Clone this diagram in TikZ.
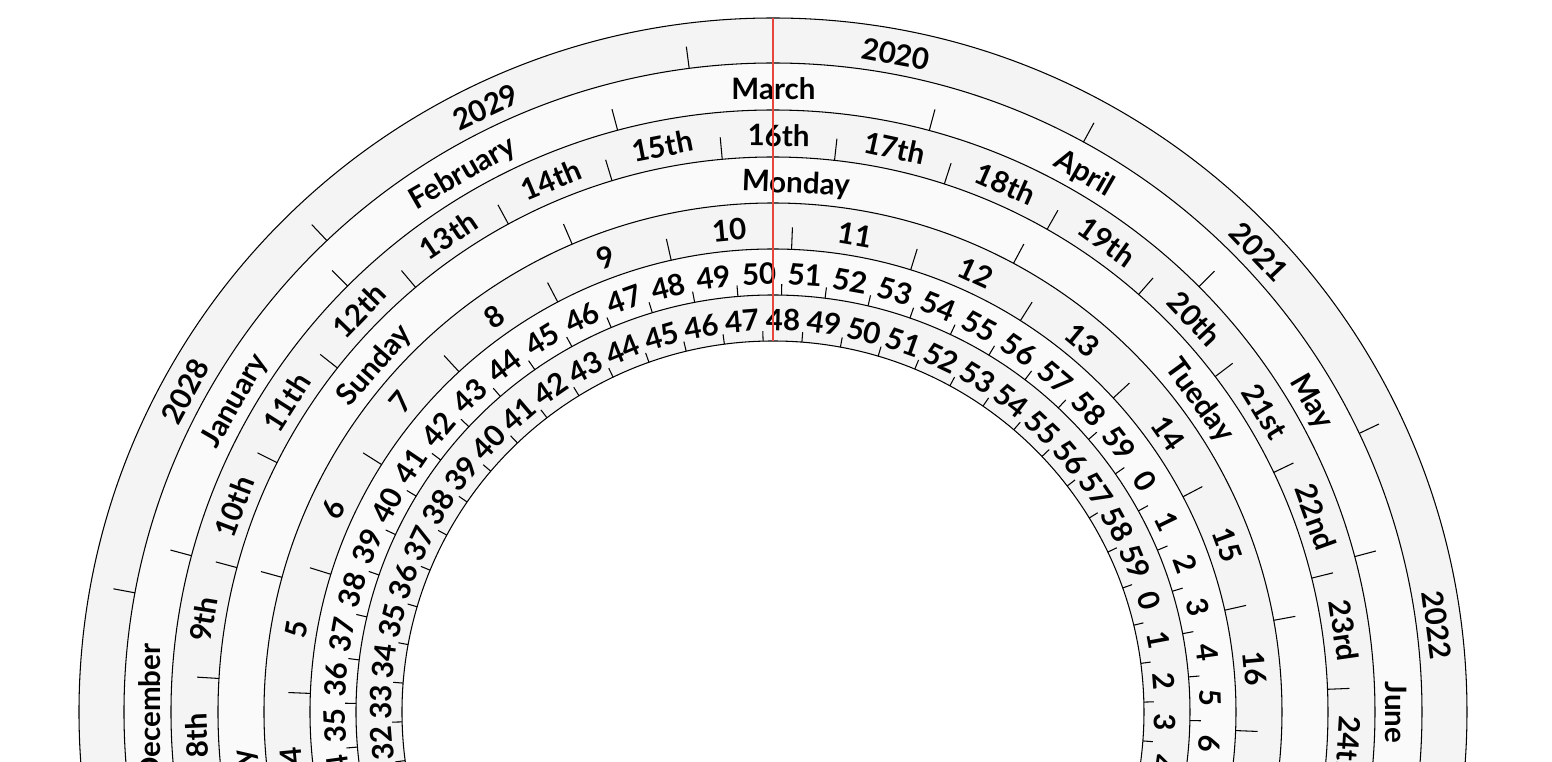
\documentclass[tikz,border=0pt]{standalone}
\usepackage{fontspec}
\setmainfont{Lato}
\usepackage{tikz}
\definecolor{ringdark}{HTML}{F4F4F4}
\definecolor{ringlight}{HTML}{FAFAFA}
\definecolor{nowcolor}{HTML}{E8453C}
\newcommand{\ordsuffix}[1]{%
  \ifnum#1=1 st\else\ifnum#1=21 st\else\ifnum#1=31 st\else
  \ifnum#1=2 nd\else\ifnum#1=22 nd\else
  \ifnum#1=3 rd\else\ifnum#1=23 rd\else th\fi\fi\fi\fi\fi\fi\fi}
% label only if its centre is near the visible part
\newcommand{\seen}[2]{\pgfmathtruncatemacro\vis{#2*sin(#1)>-1.2}}

\begin{document}
\begin{tikzpicture}[
    band/.style={draw=black, line width=0.3pt},
    tickline/.style={draw=black, line width=0.3pt},
    lbl/.style={font=\bfseries\fontsize{8.4}{10}\selectfont, inner sep=0pt, text height=0.72em, text depth=0pt},
    nowline/.style={draw=nowcolor, line width=0.6pt},
]
    \useasboundingbox (-7.73,-0.50) rectangle (7.79,7.12);
    \clip (-7.73,-0.50) rectangle (7.79,7.12);
    % Bands, outer to inner
    \foreach \r/\c in {6.94/ringdark, 6.49/ringlight, 6.02/ringdark, 5.55/ringlight, 5.09/ringdark, 4.63/ringlight, 4.17/ringdark} {
        \draw[band, fill=\c] (0,0) circle (\r);
    }
    \draw[band, fill=white] (0,0) circle (3.71);
    % Years
    \foreach \n in {0,...,9} {
        \pgfmathsetmacro\p{79.42-\n*36}
        \pgfmathtruncatemacro\yr{2020+\n}
        \seen{\p}{6.715}
        \ifnum\vis=1
            \node[lbl, rotate=\p-90] (year-\n) at (\p:6.715) {\yr};
        \fi
        \draw[tickline] (\p+18:6.49) -- (\p+18:6.71);
    }
    % Months
    \foreach \m [count=\n from 0] in {January,February,March,April,May,June,July,August,September,October,November,December} {
        \pgfmathsetmacro\p{89.955-(\n-2)*30}
        \seen{\p}{6.255}
        \ifnum\vis=1
            \node[lbl, rotate=\p-90] (month-\n) at (\p:6.255) {\m};
        \fi
        \draw[tickline] (\p+15:6.02) -- (\p+15:6.24);
    }
    % Days
    \foreach \n in {1,...,31} {
        \pgfmathsetmacro\p{89.44-(\n-16)*360/31}
        \pgfmathsetmacro\q{\p+180/31}
        \seen{\p}{5.785}
        \ifnum\vis=1
            \node[lbl, rotate=\p-90] (day-\n) at (\p:5.785) {\n\ordsuffix{\n}};
        \fi
        \draw[tickline] (\q:5.55) -- (\q:5.77);
    }
    % Weekdays
    \foreach \w [count=\n from 0] in {Monday,Tueday,Wednesday,Thursday,Friday,Saturday,Sunday} {
        \pgfmathsetmacro\p{87.52-\n*360/7}
        \pgfmathsetmacro\q{\p+180/7}
        \seen{\p}{5.32}
        \ifnum\vis=1
            \node[lbl, rotate=\p-90] (wday-\n) at (\p:5.32) {\w};
        \fi
        \draw[tickline] (\q:5.09) -- (\q:5.31);
    }
    % Hours
    \foreach \n in {0,...,23} {
        \pgfmathsetmacro\p{95.2-(\n-10)*15}
        \seen{\p}{4.86}
        \ifnum\vis=1
            \node[lbl, rotate=\p-90] (hour-\n) at (\p:4.86) {\n};
        \fi
        \draw[tickline] (\p+7.5:4.63) -- (\p+7.5:4.85);
    }
    % Minutes
    \foreach \n in {0,...,59} {
        \pgfmathsetmacro\p{91.825-(\n-50)*6}
        \seen{\p}{4.40}
        \ifnum\vis=1
            \node[lbl, rotate=\p-90] (min-\n) at (\p:4.40) {\n};
        \fi
        \draw[tickline] (\p+3:4.17) -- (\p+3:4.28);
    }
    % Seconds
    \foreach \n in {0,...,59} {
        \pgfmathsetmacro\p{88.53-(\n-48)*6}
        \seen{\p}{3.94}
        \ifnum\vis=1
            \node[lbl, rotate=\p-90] (sec-\n) at (\p:3.94) {\n};
        \fi
        \draw[tickline] (\p+3:3.71) -- (\p+3:3.81);
    }
    % Now line
    \draw[nowline] (90:6.94) -- (90:3.71);
\end{tikzpicture}
\end{document}
